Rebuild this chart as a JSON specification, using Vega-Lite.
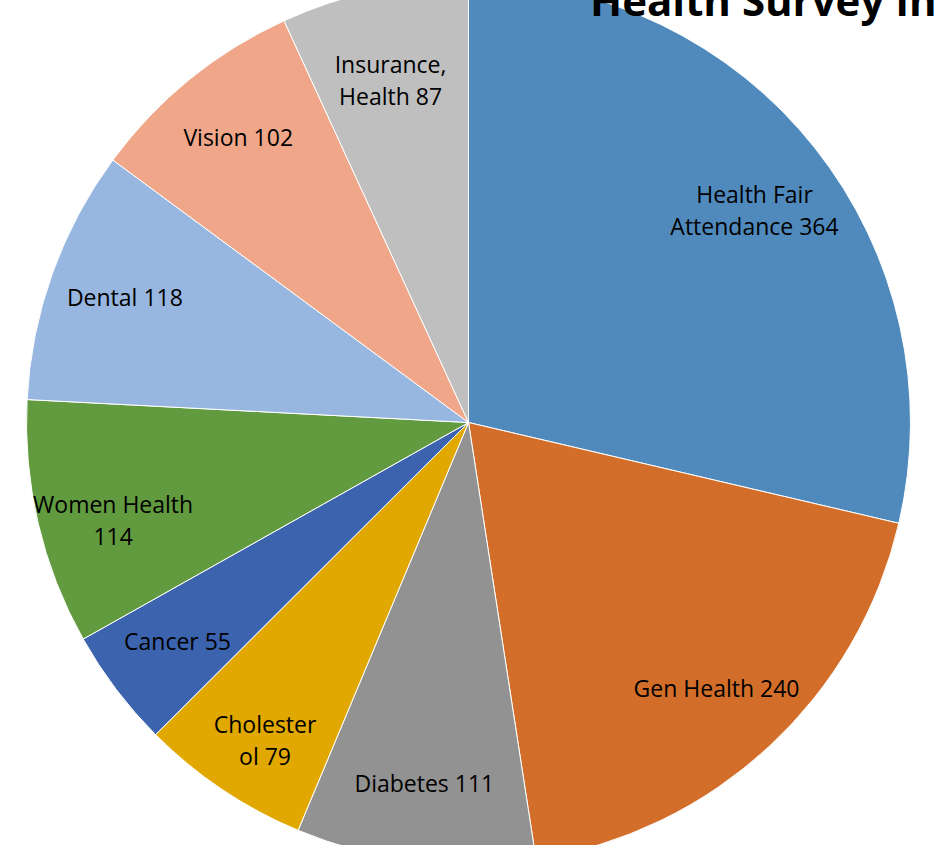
{
  "$schema": "https://vega.github.io/schema/vega-lite/v6.json",
  "width": 937,
  "height": 845,
  "autosize": "none",
  "padding": 0,
  "background": "white",
  "title": {
    "text": "Health Survey Interests",
    "anchor": "start",
    "frame": "group",
    "orient": "top",
    "offset": -46,
    "dx": 590,
    "font": "Open Sans",
    "fontSize": 42,
    "fontWeight": "bold",
    "color": "black"
  },
  "config": {"view": {"stroke": null}},
  "data": {
    "values": [
      {"idx": 1, "category": "Health Fair Attendance", "count": 364, "label": ["Health Fair", "Attendance 364"]},
      {"idx": 2, "category": "Gen Health", "count": 240, "label": ["Gen Health 240"]},
      {"idx": 3, "category": "Diabetes", "count": 111, "label": ["Diabetes 111"]},
      {"idx": 4, "category": "Cholesterol", "count": 79, "label": ["Cholester", "ol 79"]},
      {"idx": 5, "category": "Cancer", "count": 55, "label": ["Cancer 55"]},
      {"idx": 6, "category": "Women Health", "count": 114, "label": ["Women Health", "114"]},
      {"idx": 7, "category": "Dental", "count": 118, "label": ["Dental 118"]},
      {"idx": 8, "category": "Vision", "count": 102, "label": ["Vision 102"]},
      {"idx": 9, "category": "Insurance, Health", "count": 87, "label": ["Insurance,", "Health 87"]}
    ]
  },
  "encoding": {
    "theta": {"field": "count", "type": "quantitative", "stack": true},
    "order": {"field": "idx", "type": "quantitative"}
  },
  "layer": [
    {
      "mark": {"type": "arc", "outerRadius": 442, "stroke": "white", "strokeWidth": 1},
      "encoding": {
        "color": {
          "field": "category",
          "type": "nominal",
          "legend": null,
          "scale": {
            "domain": ["Health Fair Attendance", "Gen Health", "Diabetes", "Cholesterol", "Cancer", "Women Health", "Dental", "Vision", "Insurance, Health"],
            "range": ["#508abd", "#d26e2a", "#929292", "#e0a800", "#3c63ae", "#629a3f", "#97b7e0", "#f0a789", "#bfbfbf"]
          }
        }
      }
    },
    {
      "mark": {"type": "text", "radius": 365, "font": "Open Sans", "fontSize": 23, "lineHeight": 32, "color": "black", "align": "center", "baseline": "middle"},
      "encoding": {
        "text": {"field": "label"}
      }
    }
  ]
}
